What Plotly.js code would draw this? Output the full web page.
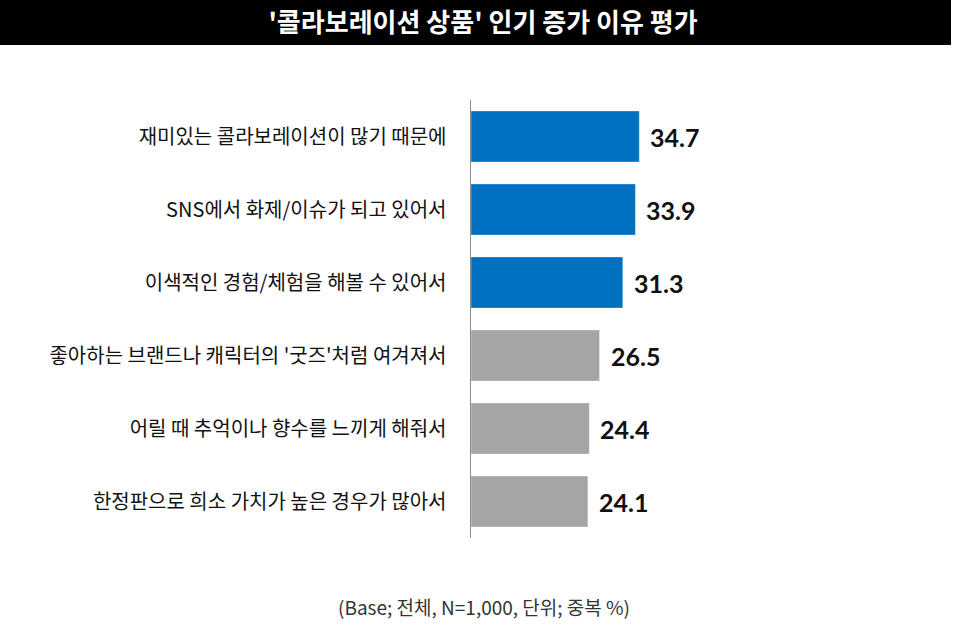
<!DOCTYPE html>
<html>
<head>
<meta charset="utf-8">
<script src="https://cdn.plot.ly/plotly-3.0.1.min.js"></script>
<style>
  html, body { margin: 0; padding: 0; background: #fff; }
  #chart { width: 966px; height: 628px; }
</style>
</head>
<body>
<div id="chart"></div>
<script>
// reasons, in the order they are shown (top to bottom)
const reasons = [
  '재미있는 콜라보레이션이 많기 때문에',
  'SNS에서 화제/이슈가 되고 있어서',
  '이색적인 경험/체험을 해볼 수 있어서',
  "좋아하는 브랜드나 캐릭터의 '굿즈'처럼 여겨져서",
  '어릴 때 추억이나 향수를 느끼게 해줘서',
  '한정판으로 희소 가치가 높은 경우가 많아서'
];
const percents = [34.7, 33.9, 31.3, 26.5, 24.4, 24.1];

const HIGHLIGHT = 3; // top three drawn in blue
const barColors = reasons.map((r, i) => (i < HIGHLIGHT ? '#0070C0' : '#A5A5A5'));

const KR = '"Noto Sans CJK KR", "Noto Sans", sans-serif';

const trace = {
  type: 'bar',
  orientation: 'h',
  x: percents,
  y: reasons,
  marker: {
    color: barColors,
    line: { color: 'rgba(255,255,255,0.35)', width: 1 }
  },
  hoverinfo: 'skip'
};

// value labels just right of each bar
const valueLabels = percents.map((v, i) => ({
  x: v,
  y: reasons[i],
  xref: 'x',
  yref: 'y',
  text: v.toFixed(1),
  showarrow: false,
  xanchor: 'left',
  yanchor: 'middle',
  xshift: 9,
  font: { family: 'Lato, "DejaVu Sans", sans-serif', size: 25, color: '#111', weight: 'bold' }
}));

const layout = {
  width: 966,
  height: 628,
  margin: { l: 471, r: 10, t: 100, b: 90 },
  paper_bgcolor: '#fff',
  plot_bgcolor: '#fff',
  showlegend: false,
  bargap: 0.3,
  title: {
    text: "'콜라보레이션 상품' 인기 증가 이유 평가",
    font: { family: KR, size: 26, color: '#fff', weight: 'bold' },
    x: 0.5,
    xref: 'container',
    xanchor: 'center',
    y: 0.964,
    yref: 'container',
    yanchor: 'middle'
  },
  xaxis: {
    range: [0, 100],
    showgrid: false,
    zeroline: false,
    showline: false,
    showticklabels: false,
    ticks: ''
  },
  yaxis: {
    autorange: 'reversed',
    showgrid: false,
    zeroline: false,
    showline: true,
    linecolor: '#8c8c8c',
    linewidth: 1.5,
    ticks: '',
    ticklabelstandoff: 19,
    tickfont: { family: KR, size: 20, color: '#111' }
  },
  shapes: [{
    type: 'rect',
    xref: 'paper', yref: 'paper',
    x0: -471 / 485, x1: 480 / 485,
    y0: 1 + 55 / 438, y1: 1 + 100 / 438,
    fillcolor: '#000',
    line: { width: 0 },
    layer: 'below'
  }],
  annotations: valueLabels.concat([{
    xref: 'paper', yref: 'paper',
    x: 13 / 485, y: -68 / 438,
    text: '(Base; 전체, N=1,000, 단위; 중복 %)',
    showarrow: false,
    xanchor: 'center',
    yanchor: 'middle',
    font: { family: KR, size: 19, color: '#333' }
  }])
};

Plotly.newPlot('chart', [trace], layout, { displayModeBar: false, staticPlot: true });
</script>
</body>
</html>
